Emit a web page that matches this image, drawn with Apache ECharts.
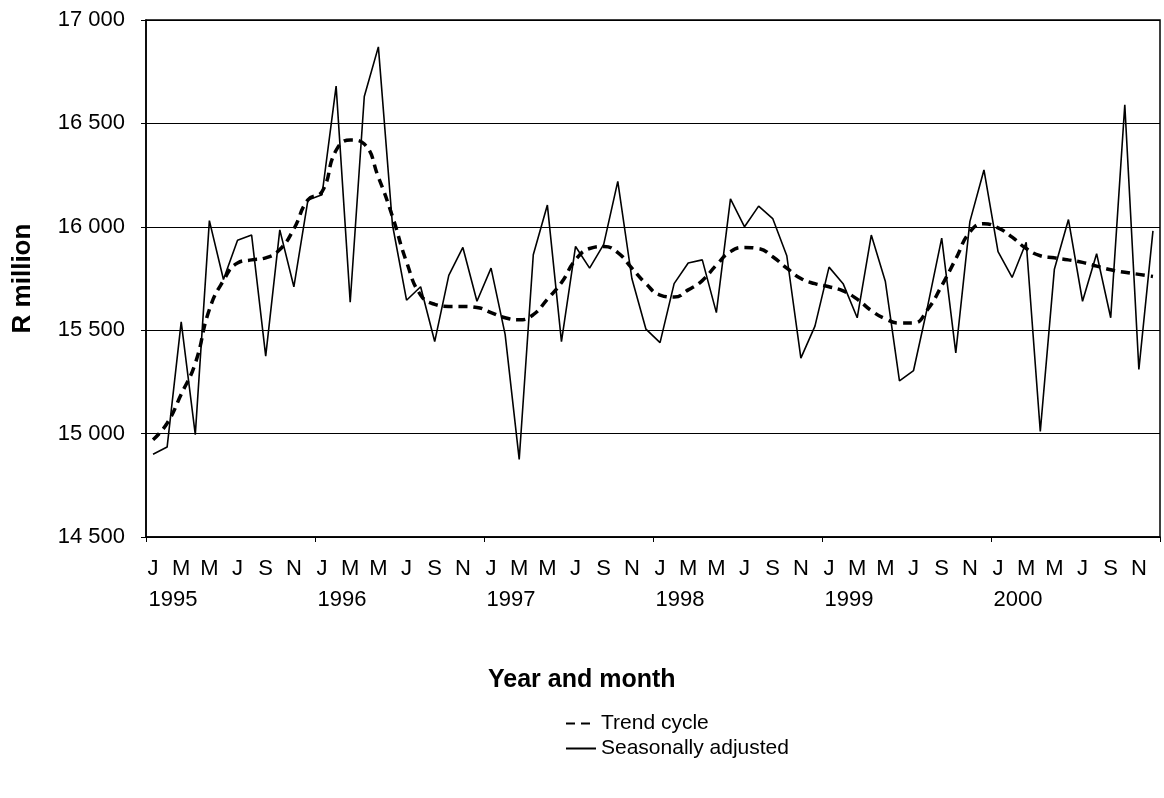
<!DOCTYPE html>
<html>
<head>
<meta charset="utf-8">
<script src="https://cdn.jsdelivr.net/npm/echarts@6/dist/echarts.min.js"></script>
<style>
html,body{margin:0;padding:0;background:#fff;}
#chart{width:1164px;height:798px;}
</style>
</head>
<body>
<div id="chart"></div>
<script>
var years = [1995, 1996, 1997, 1998, 1999, 2000];
var monthLetters = ['J','F','M','A','M','J','J','A','S','O','N','D'];
var yTicks = [14500, 15000, 15500, 16000, 16500, 17000];

var seasonallyAdjusted = [
  14900,14935,15540,14995,16030,15745,15935,15960,15375,15985,15710,16130,
  16155,16680,15635,16630,16870,16010,15645,15710,15445,15765,15900,15640,
  15800,15480,14875,15865,16105,15445,15905,15800,15915,16220,15750,15505,
  15440,15725,15825,15840,15585,16135,16000,16100,16040,15860,15365,15520,
  15805,15725,15560,15960,15735,15255,15305,15615,15945,15390,16025,16275,
  15880,15755,15925,15010,15795,16035,15640,15870,15560,16590,15310,15980
];
var trendCycle = [
  14970,15050,15190,15340,15600,15740,15825,15840,15850,15890,15990,16130,
  16170,16370,16420,16400,16240,16050,15830,15670,15625,15615,15615,15610,
  15585,15560,15550,15575,15650,15730,15840,15895,15905,15875,15800,15725,
  15670,15660,15695,15740,15815,15880,15900,15895,15855,15800,15750,15725,
  15710,15690,15650,15595,15555,15535,15535,15600,15715,15845,15975,16015,
  15995,15950,15895,15860,15850,15840,15828,15810,15792,15780,15770,15760
];

var categories = [];
years.forEach(function(y){
  monthLetters.forEach(function(m, i){ categories.push({m: m, y: y, first: i === 0}); });
});
var catKeys = categories.map(function(c, i){ return String(i); });

var FONT = '"Liberation Sans", Arial, sans-serif';
var chart = echarts.init(document.getElementById('chart'));
chart.setOption({
  animation: false,
  backgroundColor: '#fff',
  title: {
    text: 'Year and month',
    left: 483, top: 663,
    textStyle: {fontFamily: FONT, fontSize: 25, fontWeight: 'bold', color: '#000'}
  },
  legend: {
    orient: 'vertical',
    left: 560, top: 708,
    itemWidth: 30, itemHeight: 10, itemGap: 4,
    itemStyle: {opacity: 0},
    textStyle: {fontFamily: FONT, fontSize: 21, color: '#000'},
    data: ['Trend cycle', 'Seasonally adjusted']
  },
  grid: {
    left: 146, right: 4, top: 20, bottom: 261,
    show: true, borderColor: '#000', borderWidth: 1.5, backgroundColor: 'transparent'
  },
  xAxis: [{
    type: 'category',
    data: catKeys,
    boundaryGap: true,
    axisLine: {lineStyle: {color: '#000', width: 1.5}},
    axisTick: {show: true, interval: 11, length: 5, lineStyle: {color: '#000'}},
    axisLabel: {
      interval: function(idx){ return idx % 2 === 0; },
      showMinLabel: true,
      hideOverlap: false,
      margin: 21,
      fontFamily: FONT, fontSize: 22, color: '#000',
      formatter: function(v){ return categories[+v].m; }
    },
    splitLine: {show: false}
  }, {
    type: 'category',
    data: catKeys,
    position: 'bottom',
    offset: 30,
    boundaryGap: true,
    axisLine: {show: false},
    axisTick: {show: false},
    axisLabel: {
      interval: function(idx){ return categories[idx].first; },
      showMinLabel: true,
      hideOverlap: false,
      margin: 22,
      padding: [0, 0, 0, 40],
      fontFamily: FONT, fontSize: 22, color: '#000',
      formatter: function(v){ return String(categories[+v].y); }
    },
    splitLine: {show: false}
  }],
  yAxis: {
    type: 'value',
    min: yTicks[0], max: yTicks[yTicks.length - 1], interval: 500,
    name: 'R million',
    nameLocation: 'middle',
    nameGap: 110,
    nameRotate: 90,
    nameTextStyle: {fontFamily: FONT, fontSize: 26, fontWeight: 'bold', color: '#000'},
    axisLine: {show: true, lineStyle: {color: '#000', width: 1.5}},
    axisTick: {show: true, length: 5, lineStyle: {color: '#000'}},
    axisLabel: {
      margin: 21,
      showMinLabel: true,
      fontFamily: FONT, fontSize: 22, color: '#000',
      formatter: function(v){ return String(v).replace(/(\d+)(\d{3})$/, '$1 $2'); }
    },
    splitLine: {show: true, lineStyle: {color: '#000', width: 1}}
  },
  series: [
    {
      name: 'Trend cycle',
      type: 'line',
      data: trendCycle,
      symbol: 'none',
      smooth: true,
      lineStyle: {color: '#000', width: 3.5, type: [9, 6]},
      itemStyle: {color: '#000'},
      z: 3
    },
    {
      name: 'Seasonally adjusted',
      type: 'line',
      data: seasonallyAdjusted,
      symbol: 'none',
      lineStyle: {color: '#000', width: 1.6},
      itemStyle: {color: '#000'},
      z: 4
    }
  ]
});
</script>
</body>
</html>
